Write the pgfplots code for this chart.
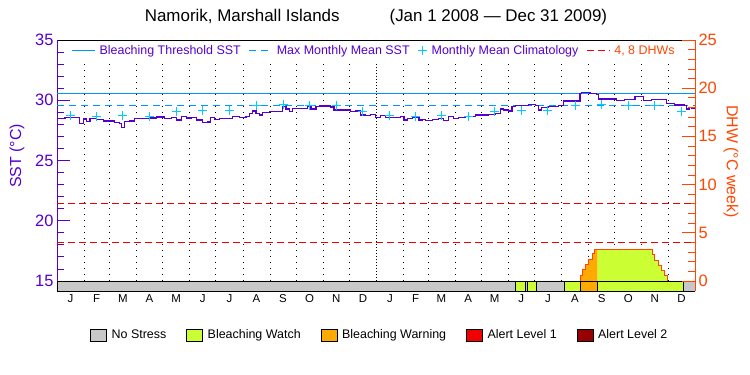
\documentclass[border=0pt]{standalone}
\usepackage{fontspec}
\setmainfont{Liberation Sans}
\usepackage{pgfplots}
\pgfplotsset{compat=1.18}
\definecolor{sstc}{RGB}{85,0,205}
\definecolor{thrc}{RGB}{0,150,255}
\definecolor{climc}{RGB}{0,205,255}
\definecolor{dhwc}{RGB}{255,70,0}
\definecolor{dhwline}{RGB}{235,0,0}
\definecolor{nsc}{RGB}{200,200,200}
\definecolor{watchc}{RGB}{204,255,51}
\definecolor{warnc}{RGB}{255,170,0}
\definecolor{alac}{RGB}{240,0,0}
\definecolor{albc}{RGB}{150,0,0}
\begin{document}
\begin{tikzpicture}
\begin{axis}[
  name=main,
  scale only axis, width=638bp, height=251bp,
  xmin=0, xmax=731, ymin=14.17, ymax=35,
  separate axis lines,
  axis x line=box, axis y line=left,
  x axis line style={black, line width=0.8bp},
  y axis line style={sstc, -, line width=0.8bp},
  /pgf/number format/assume math mode=true,
  ytick={15,20,25,30,35}, minor y tick num=4,
  ytick style={sstc, line width=0.8bp},
  major tick length=13bp, minor tick length=7bp, tick align=inside,
  yticklabel style={sstc, font=\fontsize{16.5}{18}\selectfont},
  xtick={15.5,45.5,75.5,106,136.5,167,197.5,228.5,259,289.5,320,350.5,381.5,411,440.5,471,501.5,532,562.5,593.5,624,654.5,685,715.5},
  xticklabels={J,F,M,A,M,J,J,A,S,O,N,D,J,F,M,A,M,J,J,A,S,O,N,D},
  xtick style={draw=none},
  xticklabel style={anchor=base, yshift=-11bp, font=\fontsize{11.5}{13}\selectfont},
  ylabel={SST (°C)},
  every axis y label/.style={at={(axis description cs:-0.0627,0.538)}, anchor=center, rotate=90, sstc, font=\fontsize{16}{18}\selectfont},
  title={Namorik, Marshall Islands\hspace{50bp}(Jan 1 2008 — Dec 31 2009)},
  title style={at={(axis description cs:0.5,1)}, anchor=base, yshift=13bp, font=\fontsize{17}{19}\selectfont},
  legend image code/.code={\draw[#1] (0bp,-6bp) rectangle (16bp,6bp);},
  legend columns=5,
  legend style={at={(axis description cs:0.506,-0.175)}, anchor=center, draw=none, fill=none,
    font=\fontsize{12.5}{14}\selectfont,
    /tikz/every odd column/.append style={column sep=3bp},
    /tikz/every even column/.append style={column sep=18bp}},
]
% stress bar
\addplot[fill=nsc, draw=black, line width=0.8bp, forget plot] coordinates {(0,14.17) (0,15) (525.1,15) (525.1,14.17) (0,14.17)};
\addplot[fill=watchc, draw=black, line width=0.8bp, forget plot] coordinates {(525.1,14.17) (525.1,15) (536.5,15) (536.5,14.17) (525.1,14.17)};
\addplot[fill=nsc, draw=black, line width=0.8bp, forget plot] coordinates {(536.5,14.17) (536.5,15) (538.8,15) (538.8,14.17) (536.5,14.17)};
\addplot[fill=watchc, draw=black, line width=0.8bp, forget plot] coordinates {(538.8,14.17) (538.8,15) (549.8,15) (549.8,14.17) (538.8,14.17)};
\addplot[fill=nsc, draw=black, line width=0.8bp, forget plot] coordinates {(549.8,14.17) (549.8,15) (581,15) (581,14.17) (549.8,14.17)};
\addplot[fill=watchc, draw=black, line width=0.8bp, forget plot] coordinates {(581,14.17) (581,15) (599.3,15) (599.3,14.17) (581,14.17)};
\addplot[fill=warnc, draw=black, line width=0.8bp, forget plot] coordinates {(599.3,14.17) (599.3,15) (619.5,15) (619.5,14.17) (599.3,14.17)};
\addplot[fill=watchc, draw=black, line width=0.8bp, forget plot] coordinates {(619.5,14.17) (619.5,15) (717.3,15) (717.3,14.17) (619.5,14.17)};
\addplot[fill=nsc, draw=black, line width=0.8bp, forget plot] coordinates {(717.3,14.17) (717.3,15) (731,15) (731,14.17) (717.3,14.17)};
% month grid
\pgfplotsinvokeforeach{31,60,91,121,152,182,213,244,274,305,335,397,425,456,486,517,547,578,609,639,670,700}{
  \draw[black, line width=0.8bp, dash pattern=on 0.9bp off 5.1bp] (axis cs:#1,15) -- (axis cs:#1,33.1);
}
\draw[black, line width=0.8bp, dash pattern=on 0.9bp off 2.1bp] (axis cs:366,15) -- (axis cs:366,33.1);
% threshold and MMM
\addplot[thrc, line width=1bp, forget plot] coordinates {(0,30.55) (731,30.55)};
\addplot[thrc, line width=1bp, dash pattern=on 7bp off 5bp, forget plot] coordinates {(0,29.55) (731,29.55)};
% climatology
\addplot[only marks, mark=+, mark size=4.5bp, climc, line width=1bp, forget plot] coordinates {
(15.5,28.70) (45.5,28.62) (75.5,28.72) (106,28.64) (136.5,29.08) (167,29.16) (197.5,29.16) (228.5,29.55) (259,29.62) (289.5,29.58) (320,29.58) (350.5,29.03)
(381.5,28.70) (411,28.62) (440.5,28.72) (471,28.64) (501.5,29.08) (532,29.16) (562.5,29.16) (593.5,29.55) (624,29.62) (654.5,29.58) (685,29.58) (715.5,29.03)};
% SST
\addplot[const plot, sstc, line width=1.3bp, forget plot] coordinates {
(0,28.50) (9,28.56) (20.5,28.56) (25.5,28.08) (30,28.44) (34,28.22) (37.7,28.50) (45.3,28.39) (53,28.28) (60.5,28.28) (66,28.17) (72,28.08) (73.8,27.73) (77.7,28.22) (83.4,28.28) (89,28.50) (98.6,28.50) (106,28.53) (113.8,28.61) (123,28.50) (131,28.56) (136.7,28.36) (142.4,28.64) (148,28.53) (153.8,28.58) (159.5,28.36) (167,28.17) (172.8,28.20) (175.5,28.56) (180.4,28.39) (186,28.50)
(190,28.50) (197.6,28.50) (201.4,28.64) (209,28.58) (216.7,28.64) (220.5,28.92) (224.3,29.11) (228.1,28.92) (231.9,28.78) (235.7,29.00) (243.3,29.05) (254.7,29.05) (258.5,29.47) (262.3,29.27) (266.1,29.05) (270,29.33) (281.4,29.33) (287.1,29.47) (290.9,29.27) (296.6,29.47) (300.4,29.52) (308,29.52) (313.7,29.44) (317.5,29.19) (330.9,29.19) (336.6,29.05) (342.3,29.11) (348,28.78) (353.7,28.72) (359.4,28.83) (365.1,28.58) (370.8,28.72) (376.6,28.56) (384.2,28.58)
(388,28.58) (393.7,28.64) (397.5,28.36) (401.3,28.50) (407,28.56) (414.7,28.36) (418.5,28.42) (422.3,28.31) (429.9,28.39) (437.5,28.50) (443.2,28.31) (448.9,28.64) (454.6,28.50) (460.4,28.58) (468,28.64) (475.6,28.64) (479.4,28.78) (494.6,28.83) (502.2,28.91) (507.9,29.27) (511.7,29.19) (517.5,29.11) (521.3,29.47) (525.1,29.58) (536.5,29.58) (540.3,29.66) (547.9,29.55) (551.7,29.19) (555.5,29.38) (563.1,29.47) (574.5,29.55)
(580.2,29.94) (595.4,29.94) (599.2,30.57) (601.1,30.66) (608.8,30.66) (610.7,30.55) (618.3,30.49) (620.2,30.10) (637.3,30.10) (641.1,29.99) (648.7,29.99) (650.6,30.08) (658.3,30.08) (662.1,30.30) (667.8,30.30) (671.6,29.97) (675.4,29.97) (681.1,30.05) (694.4,30.05) (698.2,29.75) (707.7,29.61) (719.2,29.55) (721.1,29.27) (724.1,29.38) (726.8,29.33) (731,29.33)};
% year labels
\node[anchor=base, font=\fontsize{14.5}{16}\selectfont] at (axis cs:183,14.17) [yshift=-27bp] {2008};
\node[anchor=base, font=\fontsize{14.5}{16}\selectfont] at (axis cs:548.5,14.17) [yshift=-27bp] {2009};
% bottom legend
\addlegendimage{fill=nsc, draw=black}\addlegendentry{No Stress}
\addlegendimage{fill=watchc, draw=black}\addlegendentry{Bleaching Watch}
\addlegendimage{fill=warnc, draw=black}\addlegendentry{Bleaching Warning}
\addlegendimage{fill=alac, draw=black}\addlegendentry{Alert Level 1}
\addlegendimage{fill=albc, draw=black}\addlegendentry{Alert Level 2}
\end{axis}
\begin{axis}[
  scale only axis, width=638bp, height=251bp,
  xmin=0, xmax=731, ymin=-1.04, ymax=25,
  axis x line=none, axis y line*=right,
  y axis line style={dhwc, -, line width=0.8bp},
  /pgf/number format/assume math mode=true,
  ytick={0,5,10,15,20,25}, minor y tick num=4,
  ytick style={dhwc, line width=0.8bp},
  major tick length=13bp, minor tick length=7bp, tick align=inside,
  yticklabel style={dhwc, font=\fontsize{16.5}{18}\selectfont},
  xtick=\empty,
  ylabel={DHW (°C week)},
  every axis y label/.style={at={(axis description cs:1.0564,0.516)}, anchor=center, rotate=-90, dhwc, font=\fontsize{16}{18}\selectfont},
  legend image code/.code={\draw[#1] (0bp,0bp) -- (23bp,0bp);},
  legend columns=4,
  legend style={at={(axis description cs:0.497,0.995)}, anchor=north, draw=none, fill=none,
    font=\fontsize{12.5}{14}\selectfont,
    /tikz/every odd column/.append style={column sep=2bp},
    /tikz/every even column/.append style={column sep=6bp}},
]
\addlegendimage{thrc, line width=1bp}\addlegendentry[text=sstc]{Bleaching Threshold SST}
\addlegendimage{thrc, line width=1bp, dash pattern=on 7bp off 5bp}\addlegendentry[text=sstc]{Max Monthly Mean SST}
\addlegendimage{legend image code/.code={\draw[climc, line width=1bp] (0bp,0bp) -- (9bp,0bp) (4.5bp,-4.5bp) -- (4.5bp,4.5bp);}}\addlegendentry[text=sstc]{Monthly Mean Climatology}
% DHW area
\addplot[fill=warnc, draw=none, forget plot] coordinates {(599.3,0) (599.3,0.52) (602,0.52) (602,1.14) (605.8,1.14) (605.8,1.73) (608.8,1.73) (608.8,2.25) (613.4,2.25) (613.4,2.87) (616.4,2.87) (616.4,3.25) (619.5,3.25) (619.5,0) (599.3,0)};
\addplot[fill=watchc, draw=none, forget plot] coordinates {(619.5,0) (619.5,3.25) (682.3,3.25) (682.3,2.7) (685,2.7) (685,2.1) (688.8,2.1) (688.8,1.6) (692.6,1.6) (692.6,1.1) (695.6,1.1) (695.6,0.55) (699.4,0.55) (699.4,0) (619.5,0)};
\addplot[dhwc, line width=1bp, forget plot] coordinates {(599.3,0) (599.3,0.52) (602,0.52) (602,1.14) (605.8,1.14) (605.8,1.73) (608.8,1.73) (608.8,2.25) (613.4,2.25) (613.4,2.87) (616.4,2.87) (616.4,3.25) (619.5,3.25) (682.3,3.25) (682.3,2.7) (685,2.7) (685,2.1) (688.8,2.1) (688.8,1.6) (692.6,1.6) (692.6,1.1) (695.6,1.1) (695.6,0.55) (699.4,0.55) (699.4,0)};
% DHW thresholds
\addplot[dhwline, line width=1bp, dash pattern=on 7bp off 4bp] coordinates {(0,4) (731,4)};
\addlegendentry[text=dhwc]{4, 8 DHWs}
\addplot[dhwline, line width=1bp, dash pattern=on 7bp off 4bp, forget plot] coordinates {(0,8) (731,8)};
\end{axis}
\pgfresetboundingbox
\path[use as bounding box] ([xshift=-57bp,yshift=-84bp]main.south west) rectangle ++(750bp,375bp);
\end{tikzpicture}
\end{document}
